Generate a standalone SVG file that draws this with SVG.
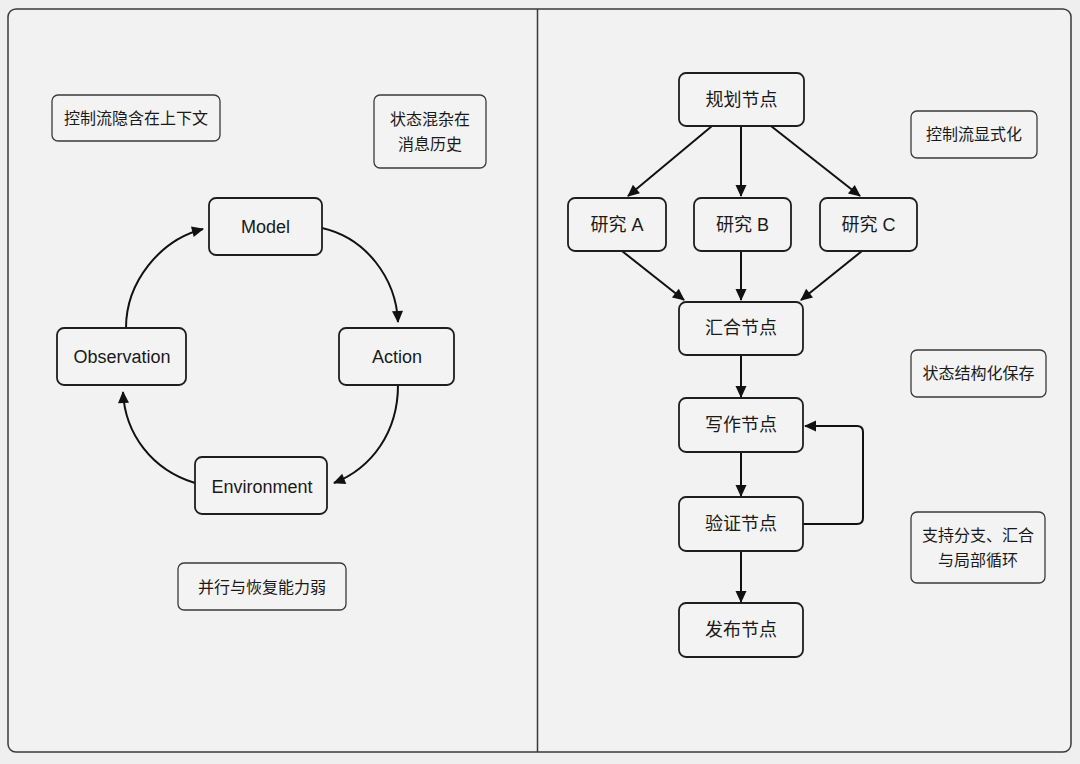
<svg xmlns="http://www.w3.org/2000/svg" width="1080" height="764" viewBox="0 0 1080 764">
<style>
.node rect{fill:#f3f3f3;stroke:#1e1e1e;stroke-width:1.8}
.note rect{fill:#f3f3f3;stroke:#3a3a3a;stroke-width:1.3}
text{font-family:"Liberation Sans","Noto Sans CJK SC",sans-serif;fill:#1a1a1a;text-anchor:middle;dominant-baseline:central}
.node text{font-size:18px}
.note text{font-size:16px}
.conn path{fill:none;stroke:#111;stroke-width:2;marker-end:url(#ah)}
</style>
<defs>
<marker id="ah" markerUnits="userSpaceOnUse" markerWidth="14" markerHeight="14" viewBox="0 0 14 14" refX="12" refY="7" orient="auto">
<path d="M1,1.5 L13,7 L1,12.5 Z" fill="#111"/>
</marker>
</defs>
<rect x="0" y="0" width="1080" height="764" fill="#efefef"/>
<g id="frame">
<rect x="8" y="9" width="1063" height="743" rx="8" fill="#f2f2f2" stroke="#3a3a3a" stroke-width="1.5"/>
<line x1="537.5" y1="9" x2="537.5" y2="752" stroke="#3a3a3a" stroke-width="1.5"/>
</g>
<g class="conn" id="connectors">
<path d="M322,228 C366,238 396,278 398,322"/>
<path d="M398,385 C398,432 372,468 334,483"/>
<path d="M195,483 C152,470 125,434 123,392"/>
<path d="M126,328 C126,282 160,240 203,229"/>
<path d="M712,126 L628,196"/>
<path d="M741,126 L741,196"/>
<path d="M771,126 L860,196"/>
<path d="M622,251 L684,300"/>
<path d="M741,251 L741,300"/>
<path d="M862,251 L801,300"/>
<path d="M741,355 L741,397"/>
<path d="M741,452 L741,496"/>
<path d="M741,551 L741,602"/>
<path d="M803,524 L857,524 Q863,524 863,518 L863,432 Q863,426 857,426 L805,426"/>
</g>
<g class="note" id="note-left-1"><rect x="52" y="95" width="168" height="46" rx="6"/><text x="136" y="118">控制流隐含在上下文</text></g>
<g class="note" id="note-left-2"><rect x="374" y="95" width="112" height="73" rx="6"/><text x="430" y="119">状态混杂在</text><text x="430" y="144">消息历史</text></g>
<g class="note" id="note-left-3"><rect x="178" y="563" width="168" height="47" rx="6"/><text x="262" y="587">并行与恢复能力弱</text></g>
<g class="node" id="model"><rect x="209" y="198" width="113" height="57" rx="7"/><text x="265.5" y="227">Model</text></g>
<g class="node" id="action"><rect x="339" y="328" width="115" height="57" rx="7"/><text x="397" y="357">Action</text></g>
<g class="node" id="environment"><rect x="195" y="457" width="132" height="57" rx="7"/><text x="262" y="487">Environment</text></g>
<g class="node" id="observation"><rect x="57" y="328" width="129" height="57" rx="7"/><text x="122" y="357">Observation</text></g>
<g class="node" id="plan"><rect x="679" y="73" width="125" height="53" rx="7"/><text x="741.5" y="100">规划节点</text></g>
<g class="node" id="research-a"><rect x="568" y="198" width="98" height="53" rx="7"/><text x="617" y="225">研究 A</text></g>
<g class="node" id="research-b"><rect x="694" y="198" width="97" height="53" rx="7"/><text x="742.5" y="225">研究 B</text></g>
<g class="node" id="research-c"><rect x="820" y="198" width="97" height="53" rx="7"/><text x="868.5" y="225">研究 C</text></g>
<g class="node" id="merge"><rect x="679" y="302" width="124" height="53" rx="7"/><text x="741" y="328">汇合节点</text></g>
<g class="node" id="write"><rect x="679" y="398" width="124" height="54" rx="7"/><text x="741" y="425">写作节点</text></g>
<g class="node" id="verify"><rect x="679" y="497" width="124" height="54" rx="7"/><text x="741" y="524">验证节点</text></g>
<g class="node" id="publish"><rect x="679" y="603" width="124" height="54" rx="7"/><text x="741" y="630">发布节点</text></g>
<g class="note" id="note-right-1"><rect x="911" y="111" width="126" height="47" rx="6"/><text x="974" y="134">控制流显式化</text></g>
<g class="note" id="note-right-2"><rect x="911" y="350" width="135" height="47" rx="6"/><text x="978.5" y="373">状态结构化保存</text></g>
<g class="note" id="note-right-3"><rect x="911" y="512" width="134" height="71" rx="6"/><text x="978" y="535">支持分支、汇合</text><text x="978" y="560">与局部循环</text></g>
</svg>
